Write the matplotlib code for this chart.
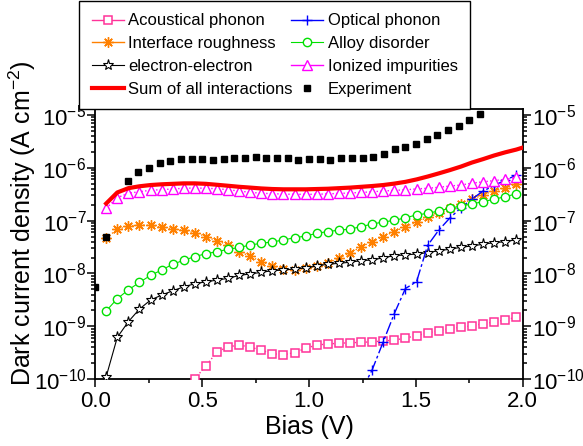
import numpy as np
import matplotlib
matplotlib.use("Agg")
import matplotlib.pyplot as plt
from matplotlib.lines import Line2D
from matplotlib.ticker import MultipleLocator, LogLocator

plt.rcParams["font.family"] = ["Liberation Sans", "DejaVu Sans"]
plt.rcParams["mathtext.fontset"] = "custom"
plt.rcParams["mathtext.rm"] = "Liberation Sans"
plt.rcParams["mathtext.it"] = "Liberation Sans:italic"
plt.rcParams["mathtext.bf"] = "Liberation Sans:bold"
plt.rcParams["axes.unicode_minus"] = False

nan = np.nan

# bias grid of the simulated curves (V)
bias_theory = [0.050, 0.102, 0.154, 0.206, 0.258, 0.309, 0.361, 0.413, 0.465, 0.517,
               0.569, 0.621, 0.673, 0.725, 0.776, 0.828, 0.880, 0.932, 0.984, 1.036,
               1.088, 1.140, 1.192, 1.244, 1.295, 1.347, 1.399, 1.451, 1.503, 1.555,
               1.607, 1.659, 1.711, 1.762, 1.814, 1.866, 1.918, 1.970]

acoustic = [nan, nan, nan, nan, nan, nan, nan, nan,
            1.02e-10, 1.8e-10, 3.3e-10, 4.1e-10, 4.45e-10, 4.05e-10, 3.55e-10, 3.05e-10, 2.9e-10, 3.2e-10,
            3.85e-10, 4.45e-10, 4.65e-10, 4.8e-10, 4.9e-10, 5.0e-10, 5.1e-10, 5.3e-10, 5.5e-10, 6.0e-10,
            6.7e-10, 7.5e-10, 8.3e-10, 9.1e-10, 9.6e-10, 1.03e-9, 1.12e-9, 1.21e-9, 1.32e-9, 1.49e-9]

optical = [nan] * 23 + [6e-11, 1.5e-10, 5.1e-10, 1.75e-9, 5.2e-9, 7.0e-9, 3.4e-8, 6.6e-8,
                        1.12e-7, 1.75e-7, 2.55e-7, 3.6e-7, 4.6e-7, 5.8e-7, 7.2e-7]

interface = [4.7e-8, 6.8e-8, 7.9e-8, 8.3e-8, 8.1e-8, 7.6e-8, 7.0e-8, 6.5e-8, 5.9e-8, 5.0e-8,
             4.1e-8, 3.5e-8, 2.6e-8, 2.1e-8, 1.67e-8, 1.4e-8, 1.2e-8, 1.15e-8, 1.25e-8, 1.39e-8,
             1.56e-8, 1.97e-8, 2.45e-8, 3.2e-8, 4.0e-8, 5.0e-8, 6.2e-8, 7.7e-8, 9.3e-8, 1.15e-7,
             1.37e-7, 1.71e-7, 2.06e-7, 2.53e-7, 3.05e-7, 3.67e-7, 4.1e-7, 4.85e-7]

alloy = [1.96e-9, 3.34e-9, 4.9e-9, 6.8e-9, 9.2e-9, 1.16e-8, 1.49e-8, 1.78e-8, 2.08e-8, 2.37e-8,
         2.58e-8, 2.87e-8, 3.1e-8, 3.46e-8, 3.72e-8, 3.95e-8, 4.3e-8, 4.75e-8, 5.1e-8, 5.75e-8,
         6.2e-8, 6.6e-8, 6.9e-8, 7.7e-8, 8.6e-8, 9.4e-8, 1.01e-7, 1.13e-7, 1.28e-7, 1.37e-7,
         1.52e-7, 1.71e-7, 1.89e-7, 2.06e-7, 2.28e-7, 2.53e-7, 2.83e-7, 3.2e-7]

el_el = [1.12e-10, 6.2e-10, 1.23e-9, 2.13e-9, 3.15e-9, 3.9e-9, 4.7e-9, 5.6e-9, 6.4e-9, 6.95e-9,
         7.5e-9, 8.1e-9, 9.2e-9, 9.8e-9, 1.05e-8, 1.13e-8, 1.16e-8, 1.22e-8, 1.27e-8, 1.39e-8,
         1.49e-8, 1.56e-8, 1.63e-8, 1.75e-8, 1.8e-8, 1.98e-8, 2.17e-8, 2.24e-8, 2.34e-8, 2.47e-8,
         2.7e-8, 2.87e-8, 3.13e-8, 3.31e-8, 3.57e-8, 3.82e-8, 3.99e-8, 4.35e-8]

ionized = [1.71e-7, 2.71e-7, 3.28e-7, 3.52e-7, 3.74e-7, 3.84e-7, 3.96e-7, 4.08e-7, 4.13e-7, 4.08e-7,
           4.0e-7, 3.84e-7, 3.6e-7, 3.43e-7, 3.28e-7, 3.23e-7, 3.16e-7, 3.14e-7, 3.14e-7, 3.14e-7,
           3.2e-7, 3.26e-7, 3.33e-7, 3.4e-7, 3.5e-7, 3.62e-7, 3.72e-7, 3.82e-7, 3.97e-7, 4.08e-7,
           4.26e-7, 4.5e-7, 4.7e-7, 5.1e-7, 5.4e-7, 5.7e-7, 6.0e-7, 6.6e-7]

bias_sum = bias_theory + [2.0]
total = [2.1e-7, 3.4e-7, 4.1e-7, 4.45e-7, 4.7e-7, 4.85e-7, 4.95e-7, 5.05e-7, 5.05e-7, 4.95e-7,
         4.75e-7, 4.55e-7, 4.35e-7, 4.2e-7, 4.05e-7, 3.95e-7, 3.9e-7, 3.9e-7, 3.9e-7, 3.95e-7,
         4.0e-7, 4.1e-7, 4.2e-7, 4.35e-7, 4.5e-7, 4.7e-7, 5.0e-7, 5.4e-7, 6.0e-7, 6.8e-7,
         7.8e-7, 9.0e-7, 1.05e-6, 1.25e-6, 1.45e-6, 1.7e-6, 1.95e-6, 2.2e-6, 2.4e-6]

bias_exp = [0.00, 0.05, 0.15, 0.20, 0.25, 0.30, 0.35, 0.40, 0.45, 0.50, 0.55, 0.60, 0.65,
            0.70, 0.75, 0.80, 0.85, 0.90, 0.95, 1.00, 1.05, 1.10, 1.15, 1.20, 1.25, 1.30,
            1.35, 1.40, 1.45, 1.50, 1.55, 1.60, 1.65, 1.70, 1.75, 1.80]
experiment = [5.6e-9, 5.0e-8, 5.7e-7, 8.2e-7, 1.0e-6, 1.23e-6, 1.34e-6, 1.47e-6, 1.48e-6, 1.48e-6,
              1.42e-6, 1.44e-6, 1.5e-6, 1.51e-6, 1.57e-6, 1.55e-6, 1.55e-6, 1.51e-6, 1.40e-6,
              1.46e-6, 1.46e-6, 1.42e-6, 1.51e-6, 1.55e-6, 1.55e-6, 1.61e-6, 1.80e-6, 2.23e-6,
              2.46e-6, 2.84e-6, 3.53e-6, 4.2e-6, 5.1e-6, 6.1e-6, 7.9e-6, 1.03e-5]

fig = plt.figure(figsize=(5.83, 4.46), dpi=100)
ax = fig.add_axes([0.1638, 0.1496, 0.7328, 0.6049])

styles = [
    ("Acoustical phonon", acoustic, dict(color="#FF3399", marker="s", ms=5.2, mfc="white", mew=1.1, ls=":", lw=1.0)),
    ("Interface roughness", interface, dict(color="#FF8000", marker=(8, 2, 0), ms=7.5, mew=1.0, ls=":", lw=1.0)),
    ("electron-electron", el_el, dict(color="black", marker="*", ms=8, mfc="white", mew=0.8, ls="-", lw=0.8)),
    ("Optical phonon", optical, dict(color="#0000FF", marker="+", ms=7.5, mew=1.0, ls=(0, (9, 2, 2, 2)), lw=1.0)),
    ("Alloy disorder", alloy, dict(color="#00E000", marker="o", ms=6, mfc="white", mew=1.0, ls="-", lw=0.8)),
    ("Ionized impurities", ionized, dict(color="#FF00FF", marker="^", ms=6.5, mfc="white", mew=1.0, ls=":", lw=1.0)),
]

proxies = {}
for label, vals, st in styles:
    ax.plot(bias_theory, vals, clip_on=True, zorder=3, **st)
    pst = dict(st)
    pst["ls"] = "-"
    proxies[label] = Line2D([], [], **pst)

ax.plot(bias_sum, total, color="#FF0000", lw=3, zorder=4)
ax.plot(bias_exp, experiment, ls="none", marker="s", ms=5, color="black", zorder=5)

proxies["Sum of all interactions"] = Line2D([], [], color="#FF0000", lw=3)
proxies["Experiment"] = Line2D([], [], ls="none", marker="s", ms=5, color="black")

order = ["Acoustical phonon", "Interface roughness", "electron-electron", "Sum of all interactions",
         "Optical phonon", "Alloy disorder", "Ionized impurities", "Experiment"]
leg = fig.legend([proxies[k] for k in order], order, ncol=2, loc="lower left",
                 bbox_to_anchor=(79 / 583, 0.7545), bbox_transform=fig.transFigure,
                 borderaxespad=0, fancybox=False, edgecolor="black", framealpha=1,
                 fontsize=12, handlelength=1.92, handletextpad=0.3, columnspacing=-0.15,
                 labelspacing=0.47, borderpad=0.75)
leg.get_frame().set_linewidth(1.0)

ax.set_yscale("log")
ax.set_xlim(0, 2.0)
ax.set_ylim(1e-10, 10 ** -4.9)
ax.xaxis.set_major_locator(MultipleLocator(0.5))
ax.xaxis.set_minor_locator(MultipleLocator(0.25))
ax.yaxis.set_major_locator(LogLocator(base=10, numticks=10))
ax.yaxis.set_minor_locator(LogLocator(base=10, subs=np.arange(2, 10), numticks=10))
ax.set_xticks([0, 0.5, 1.0, 1.5, 2.0])
ax.set_xticklabels(["0.0", "0.5", "1.0", "1.5", "2.0"])

for sp in ax.spines.values():
    sp.set_linewidth(1.3)
ax.tick_params(which="both", direction="out", right=True, labelright=True, top=False, width=1.1)
ax.tick_params(which="major", length=5.5)
ax.tick_params(which="minor", length=3)
ax.tick_params(axis="x", labelsize=16, pad=3)
ax.tick_params(axis="y", labelsize=16, pad=1)

ax.set_xlabel("Bias (V)", fontsize=18, labelpad=2)
ax.set_ylabel("Dark current density (A cm$^{-2}$)", fontsize=18)
ax.yaxis.set_label_coords(-0.135, 0.58)

fig.savefig("out.png", dpi=100)
